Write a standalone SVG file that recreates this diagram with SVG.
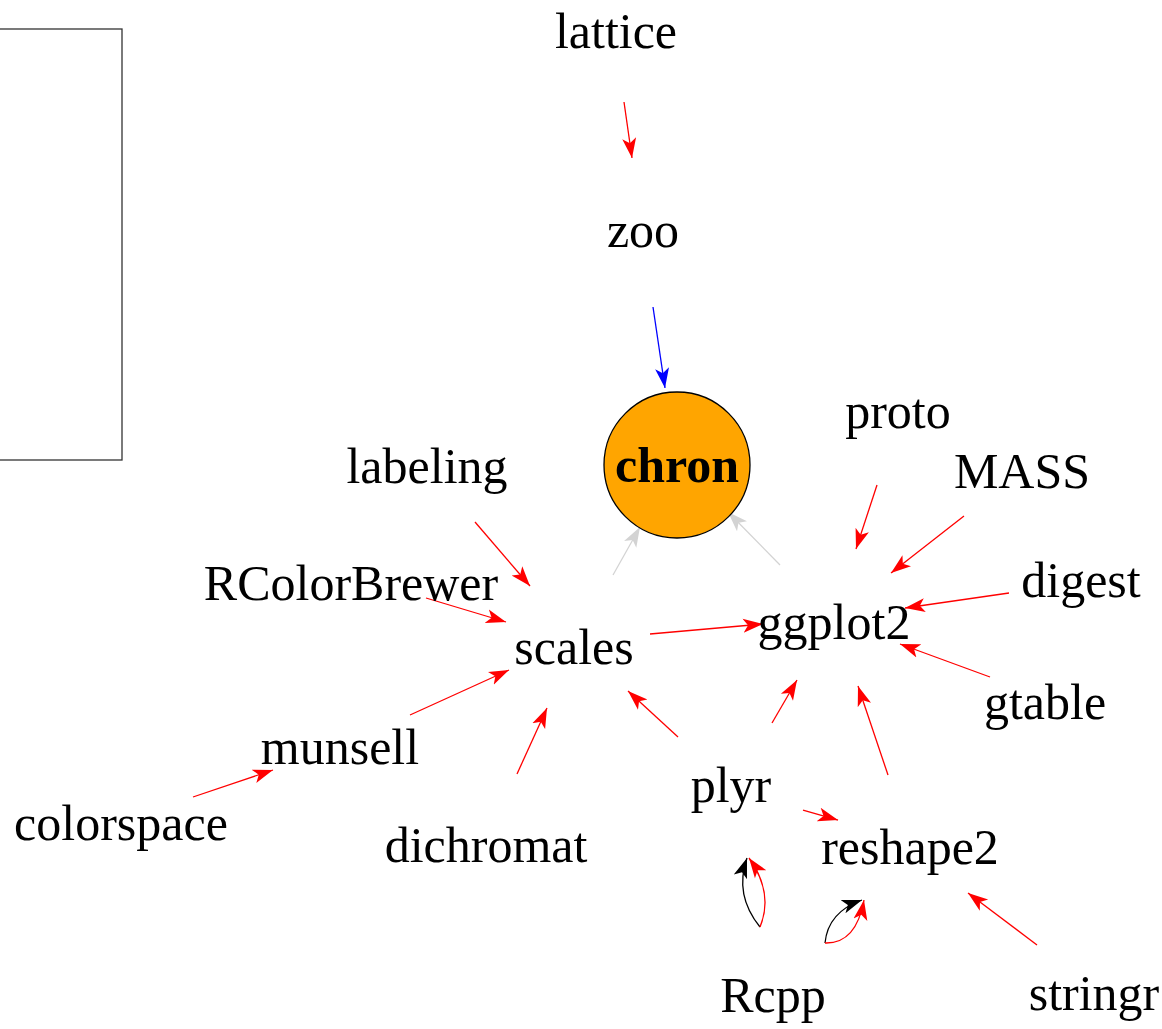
<svg xmlns="http://www.w3.org/2000/svg" width="1162" height="1029" viewBox="0 0 1162 1029">
<style>
.lbl{font-family:"Liberation Serif","Times New Roman",serif;font-size:50px;fill:#000;text-anchor:middle}
.e{fill:none;stroke-width:1.3}
.r{stroke:#FF0000;marker-end:url(#ar)}
.b{stroke:#0000FF;marker-end:url(#ab)}
.g{stroke:#D3D3D3;marker-end:url(#ag)}
.k{stroke:#000;marker-end:url(#ak)}
</style>
<defs>
<marker id="ar" markerUnits="userSpaceOnUse" markerWidth="21" markerHeight="16" refX="20" refY="8" orient="auto"><path d="M0,1 L20,8 L0,15 L5,8 z" fill="#FF0000"/></marker>
<marker id="ab" markerUnits="userSpaceOnUse" markerWidth="21" markerHeight="16" refX="20" refY="8" orient="auto"><path d="M0,1 L20,8 L0,15 L5,8 z" fill="#0000FF"/></marker>
<marker id="ag" markerUnits="userSpaceOnUse" markerWidth="21" markerHeight="16" refX="20" refY="8" orient="auto"><path d="M0,1 L20,8 L0,15 L5,8 z" fill="#D3D3D3"/></marker>
<marker id="ak" markerUnits="userSpaceOnUse" markerWidth="21" markerHeight="16" refX="20" refY="8" orient="auto"><path d="M0,1 L20,8 L0,15 L5,8 z" fill="#000"/></marker>
</defs>
<rect x="-10" y="29" width="132" height="431" fill="none" stroke="#333" stroke-width="1.3"/>
<g id="edges">
<line class="e r" x1="624" y1="102" x2="632" y2="158"/>
<line class="e b" x1="653" y1="307" x2="665" y2="388"/>
<line class="e g" x1="613" y1="575" x2="640" y2="527"/>
<line class="e g" x1="780" y1="565" x2="728" y2="512"/>
<line class="e r" x1="475" y1="522" x2="530" y2="586"/>
<line class="e r" x1="426" y1="598" x2="506" y2="622"/>
<line class="e r" x1="650" y1="634" x2="763" y2="624"/>
<line class="e r" x1="410" y1="715" x2="509" y2="670"/>
<line class="e r" x1="517" y1="774" x2="547" y2="708"/>
<line class="e r" x1="678" y1="737" x2="628" y2="691"/>
<line class="e r" x1="772" y1="723" x2="797" y2="680"/>
<line class="e r" x1="877" y1="485" x2="856" y2="549"/>
<line class="e r" x1="964" y1="516" x2="891" y2="573"/>
<line class="e r" x1="1009" y1="593" x2="905" y2="608"/>
<line class="e r" x1="990" y1="677" x2="900" y2="644"/>
<line class="e r" x1="888" y1="775" x2="858" y2="686"/>
<line class="e r" x1="803" y1="810" x2="838" y2="820"/>
<line class="e r" x1="193" y1="797" x2="273" y2="770"/>
<line class="e r" x1="1037" y1="945" x2="968" y2="893"/>
<path class="e k" d="M760,927 Q734,895 747,858"/>
<path class="e r" d="M760,927 Q774,893 749,858"/>
<path class="e k" d="M825,943 Q828,912 862,900"/>
<path class="e r" d="M825,943 Q856,944 864,900"/>
</g>
<g id="lattice"><text class="lbl" x="616" y="48">lattice</text></g>
<g id="zoo"><text class="lbl" x="643" y="247">zoo</text></g>
<g id="chron"><circle cx="677" cy="465" r="73" fill="#FFA500" stroke="#000" stroke-width="1.3"/><text class="lbl" x="677" y="482" font-weight="bold">chron</text></g>
<g id="proto"><text class="lbl" x="898" y="428">proto</text></g>
<g id="MASS"><text class="lbl" x="1022" y="488">MASS</text></g>
<g id="labeling"><text class="lbl" x="427" y="483">labeling</text></g>
<g id="RColorBrewer"><text class="lbl" x="351" y="600">RColorBrewer</text></g>
<g id="digest"><text class="lbl" x="1081" y="597">digest</text></g>
<g id="scales"><text class="lbl" x="574" y="664">scales</text></g>
<g id="ggplot2"><text class="lbl" x="834" y="639">ggplot2</text></g>
<g id="gtable"><text class="lbl" x="1045" y="719">gtable</text></g>
<g id="munsell"><text class="lbl" x="340" y="764">munsell</text></g>
<g id="colorspace"><text class="lbl" x="121" y="840">colorspace</text></g>
<g id="dichromat"><text class="lbl" x="486" y="862">dichromat</text></g>
<g id="plyr"><text class="lbl" x="731" y="802">plyr</text></g>
<g id="reshape2"><text class="lbl" x="910" y="864">reshape2</text></g>
<g id="Rcpp"><text class="lbl" x="773" y="1012">Rcpp</text></g>
<g id="stringr"><text class="lbl" x="1094" y="1010">stringr</text></g>
</svg>
